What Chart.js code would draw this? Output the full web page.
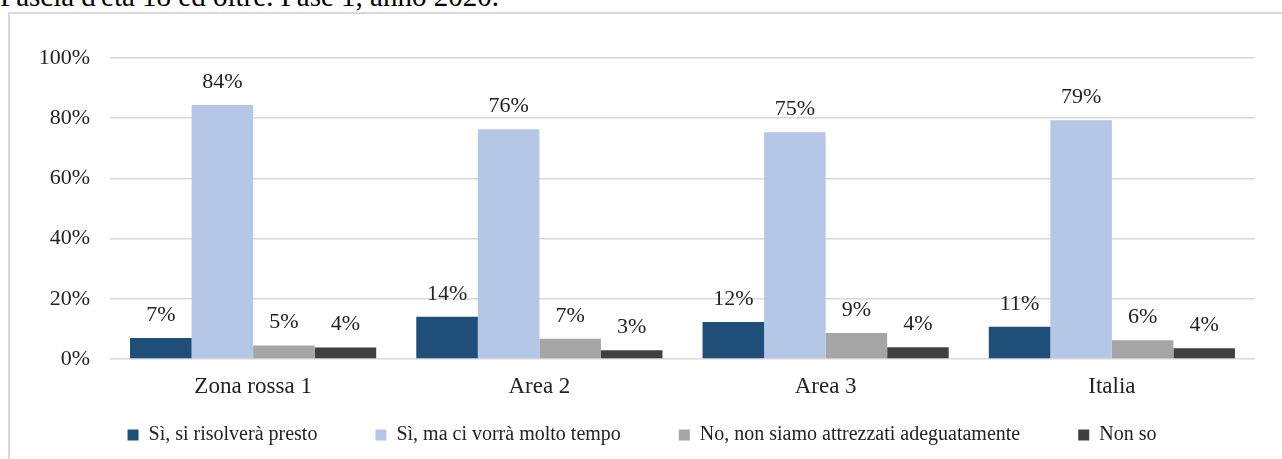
<!DOCTYPE html>
<html>
<head>
<meta charset="utf-8">
<script src="https://cdn.jsdelivr.net/npm/chart.js@4/dist/chart.umd.min.js"></script>
<style>
  html, body { margin: 0; padding: 0; width: 1282px; height: 459px; overflow: hidden; background: #fff; }
  #title { position: absolute; left: 0; top: -18px; font: 29px "Liberation Serif", serif; line-height: 29px; color: #000; white-space: nowrap; }
  #frame { position: absolute; left: 8px; top: 12px; border-left: 2px solid #d9d9d9; border-top: 2px solid #d9d9d9; width: 1282px; height: 484px; }
</style>
</head>
<body>
<div id="title">Fascia d'età 18 ed oltre. Fase 1, anno 2020.</div>
<div id="frame"><canvas id="chart" width="1282" height="484"></canvas></div>
<script>
const categories = ["Zona rossa 1", "Area 2", "Area 3", "Italia"];
const seriesNames = [
  "Sì, si risolverà presto",
  "Sì, ma ci vorrà molto tempo",
  "No, non siamo attrezzati adeguatamente",
  "Non so"
];
const presto = [7.0, 14.0, 12.3, 10.7];
const moltoTempo = [84.4, 76.3, 75.3, 79.3];
const nonAttrezzati = [4.5, 6.7, 8.6, 6.2];
const nonSo = [3.8, 2.9, 3.9, 3.6];
const yTicks = [0, 20, 40, 60, 80, 100];

const colors = ["#1f4e79", "#b4c7e7", "#a5a5a5", "#404040"];
const serif = "'Liberation Serif', serif";

// percent labels above every bar
const barLabels = {
  id: "barLabels",
  afterDatasetsDraw(chart) {
    const ctx = chart.ctx;
    ctx.save();
    ctx.font = "22px " + serif;
    ctx.fillStyle = "#222";
    ctx.textAlign = "center";
    ctx.textBaseline = "middle";
    chart.data.datasets.forEach((ds, i) => {
      chart.getDatasetMeta(i).data.forEach((bar, j) => {
        ctx.fillText(Math.round(ds.data[j]) + "%", bar.x, bar.y - 23);
      });
    });
    ctx.restore();
  }
};

// wide legend spacing makes the legend tall, pull it up under the axis labels
const legendLift = {
  id: "legendLift",
  afterLayout(chart) {
    chart.legend.top -= 36;
    chart.legend.bottom -= 36;
  }
};

new Chart(document.getElementById("chart"), {
  type: "bar",
  data: {
    labels: categories,
    datasets: [presto, moltoTempo, nonAttrezzati, nonSo].map((d, i) => ({
      label: seriesNames[i],
      data: d,
      backgroundColor: colors[i],
      barPercentage: 1,
      categoryPercentage: 0.86,
    })),
  },
  options: {
    responsive: false,
    animation: false,
    layout: { padding: { top: 44, right: 18, bottom: 7, left: 0 } },
    plugins: {
      tooltip: { enabled: false },
      legend: {
        position: "bottom",
        labels: {
          font: { family: serif, size: 20 },
          color: "#222",
          boxWidth: 11,
          boxHeight: 11,
          padding: 58,
        },
      },
    },
    scales: {
      x: {
        grid: { display: false, drawTicks: false },
        border: { display: false },
        ticks: { font: { family: serif, size: 23 }, color: "#222", padding: 14 },
        afterFit(scale) { scale.height = 44; },
      },
      y: {
        min: 0,
        max: 100,
        afterBuildTicks(scale) { scale.ticks = yTicks.map(v => ({ value: v })); },
        grid: { color: "#d9d9d9", lineWidth: 1.5, drawTicks: false },
        border: { display: false },
        ticks: {
          font: { family: serif, size: 22 },
          color: "#222",
          padding: 20,
          callback: v => v + "%",
        },
        afterFit(scale) { scale.width = 100; },
      },
      spacer: {
        type: "linear",
        position: "right",
        grid: { display: false, drawTicks: false },
        border: { display: false },
        ticks: { display: false },
        afterFit(scale) { scale.width = 19; },
      },
    },
  },
  plugins: [barLabels, legendLift],
});
</script>
</body>
</html>
